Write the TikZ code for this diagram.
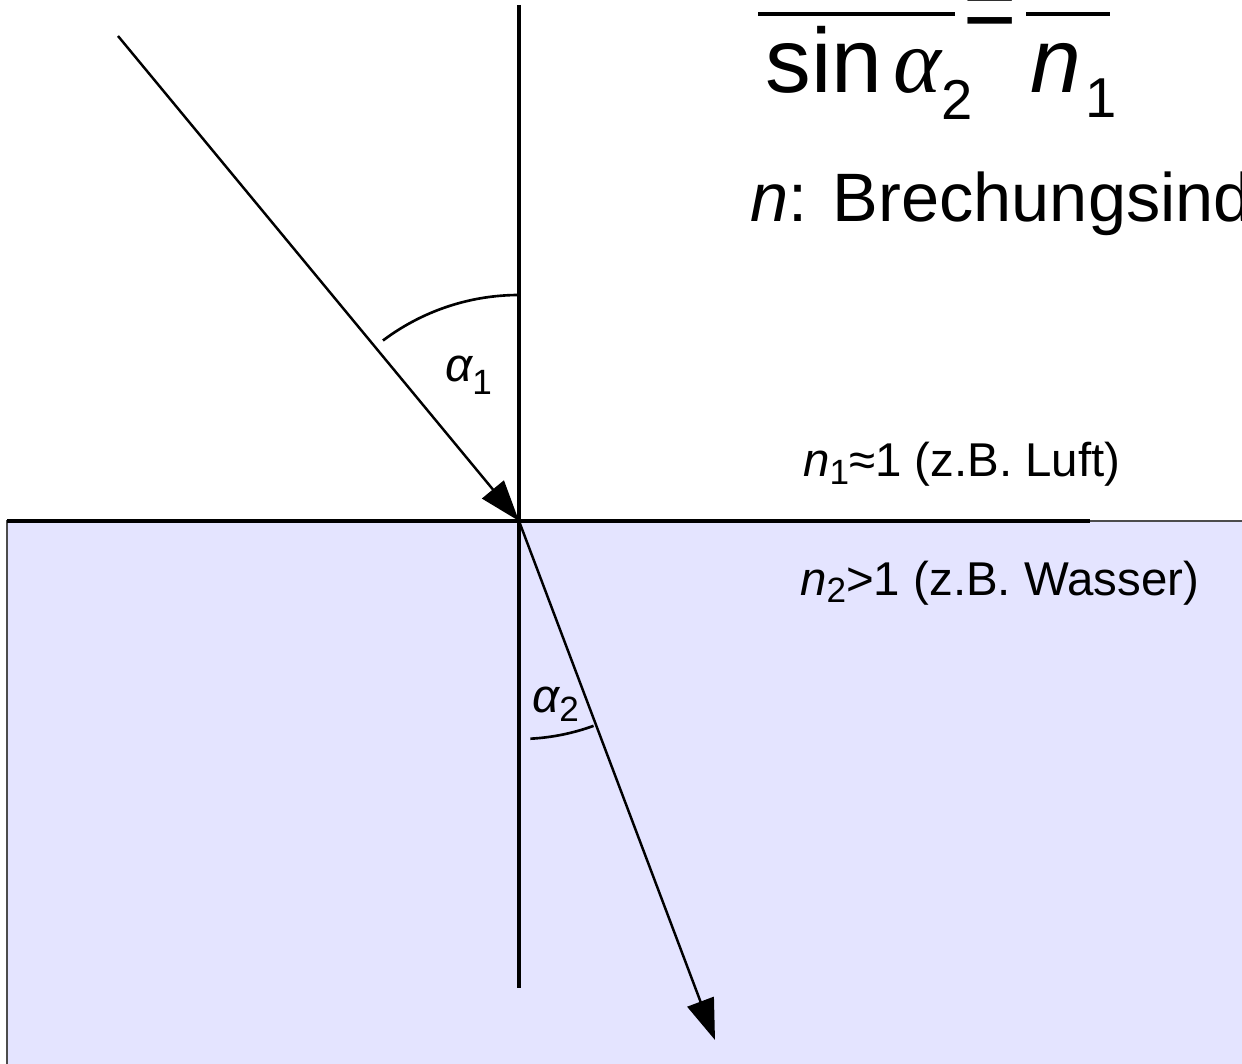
\documentclass[tikz,border=0pt]{standalone}
\usepackage{fontspec}
\setmainfont{Liberation Sans}
\newfontfamily\serifgreek{Liberation Serif}
\usetikzlibrary{arrows.meta}
\definecolor{wasserblau}{RGB}{228,228,255}
\newcommand\subidx[2]{\raisebox{-#2}{\fontsize{20}{24}\selectfont #1}}

\begin{document}
\begin{tikzpicture}[x=0.02cm, y=-0.02cm,
				lot/.style={line width=2.6pt},
				strahl/.style={
					line width=1.4pt,
					-{Triangle[length=0.82cm, width=0.56cm]}
				},
				winkel/.style={line width=1.5pt},
				bruch/.style={line width=2.3pt},
				txt/.style={
					anchor=base west, inner sep=0pt,
					font=\fontsize{27}{32}\selectfont
				},
				bigtxt/.style={
					txt, font=\fontsize{39}{46}\selectfont
				},
				formel/.style={
					txt, font=\fontsize{52}{62}\selectfont
				},
				]
				\useasboundingbox (0,0) rectangle (1242,1064);
				
				%medium below
				\filldraw[fill=wasserblau, draw=black!70, line width=0.6pt] (7,521) rectangle (1260,1080);
				
				%lines
				\coordinate (O) at (519,521);
				\coordinate (lotoben) at (519,5);
				\coordinate (lotunten) at (519,988);
				\coordinate (grenzelinks) at (7,521);
				\coordinate (grenzerechts) at (1090,521);
				\draw[lot] (lotoben) -- (lotunten);
				\draw[lot] (grenzelinks) -- (grenzerechts);
				
				%rays
				\coordinate (einfall) at (118,36);
				\coordinate (ausfall) at (715,1040);
				\draw[strahl] (einfall) -- (O);
				\draw[strahl] (O) -- (ausfall);
				
				%angles
				\draw[winkel] (O) ++(233:226) arc[start angle=233, end angle=270, radius=226];
				\draw[winkel] (O) ++(70:218) arc[start angle=70, end angle=87, radius=218];
				\node[txt] (alpha1) at (445,382) {{\itshape α}\subidx{1}{0.26cm}};
				\node[txt] (alpha2) at (532,712) {{\itshape α}\subidx{2}{0.2cm}};
				
				%media
				\node[txt] (luft) at (803,477) {{\itshape n}\subidx{1}{0.16cm}≈1 (z.B. Luft)};
				\node[txt] (wasser) at (800,595) {{\itshape n}\subidx{2}{0.16cm}>1 (z.B. Wasser)};
				
				%law
				\node[formel] (nenner1) at (765,93) {sin\hspace{0.12em}{\serifgreek\itshape α}\raisebox{-0.54cm}{\fontsize{32}{36}\selectfont 2}};
				\node[formel] (nenner2) at (1030,93) {{\itshape n}\hspace{0.05em}\raisebox{-0.5cm}{\fontsize{32}{36}\selectfont 1}};
				\node[anchor=base, inner sep=0pt, font=\fontsize{52}{62}\selectfont] (gleich) at (990,40) {=};
				\draw[bruch] (758,14) -- (955,14);
				\draw[bruch] (1026,14) -- (1110,14);
				
				\node[bigtxt] (brechung) at (750,222) {{\itshape n}: Brechungsind};
\end{tikzpicture}
\end{document}
